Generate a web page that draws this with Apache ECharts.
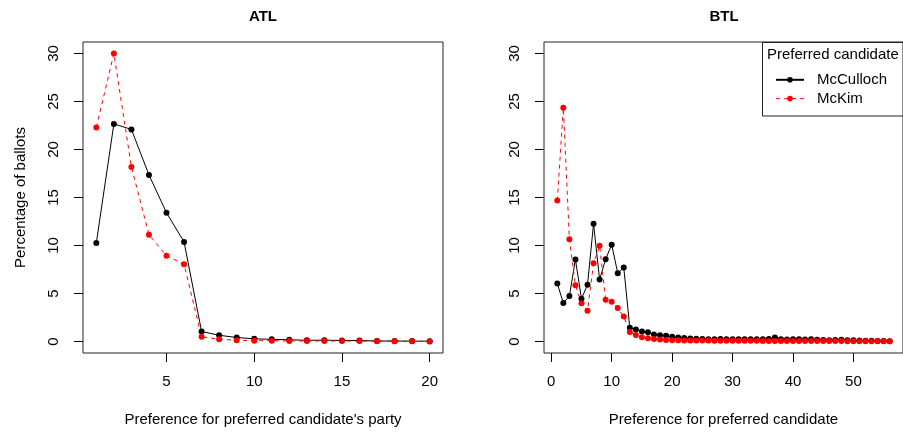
<!DOCTYPE html>
<html>
<head>
<meta charset="utf-8">
<script src="https://cdn.jsdelivr.net/npm/echarts@6/dist/echarts.min.js"></script>
<style>
html,body{margin:0;padding:0;background:#fff;}
#chart{width:903px;height:432px;}
</style>
</head>
<body>
<div id="chart"></div>
<script>
// ---- data ----
const atlPref = [1,2,3,4,5,6,7,8,9,10,11,12,13,14,15,16,17,18,19,20];
const atlMcCulloch = [10.27,22.67,22.09,17.35,13.41,10.37,1.04,0.65,0.41,0.28,0.22,0.18,0.12,0.14,0.10,0.10,0.05,0.05,0.04,0.03];
const atlMcKim = [22.3,30.0,18.18,11.13,8.92,8.05,0.48,0.24,0.13,0.08,0.08,0.06,0.05,0.05,0.05,0.04,0.03,0.02,0.02,0.01];

const btlPref = [1,2,3,4,5,6,7,8,9,10,11,12,13,14,15,16,17,18,19,20,21,22,23,24,25,26,27,28,29,30,31,32,33,34,35,36,37,38,39,40,41,42,43,44,45,46,47,48,49,50,51,52,53,54,55,56];
const btlMcCulloch = [6.04,4.01,4.73,8.53,4.46,5.91,12.26,6.46,8.57,10.09,7.12,7.70,1.42,1.24,1.05,0.96,0.72,0.66,0.60,0.48,0.42,0.36,0.32,0.28,0.26,0.24,0.24,0.26,0.22,0.22,0.24,0.22,0.22,0.24,0.22,0.26,0.42,0.22,0.20,0.22,0.24,0.20,0.24,0.18,0.16,0.14,0.16,0.18,0.12,0.12,0.10,0.08,0.08,0.06,0.04,0.03];
const btlMcKim = [14.68,24.35,10.64,5.87,3.97,3.21,8.15,9.98,4.35,4.15,3.49,2.59,0.98,0.68,0.44,0.34,0.27,0.20,0.16,0.14,0.12,0.11,0.10,0.10,0.09,0.09,0.08,0.08,0.08,0.08,0.07,0.07,0.07,0.07,0.06,0.06,0.06,0.06,0.05,0.05,0.05,0.05,0.05,0.04,0.04,0.04,0.04,0.04,0.03,0.03,0.03,0.03,0.02,0.02,0.02,0.02];

const atlTicks = [5,10,15,20];
const btlTicks = [0,10,20,30,40,50];
const yTicks = [0,5,10,15,20,25,30];

// ---- chart ----
const FONT = 'Liberation Sans, Arial, sans-serif';
const chart = echarts.init(document.getElementById('chart'), null, {renderer:'canvas'});

function xAxisCfg(idx, min, max, ticks, name){
  return {
    gridIndex: idx, type:'value', min:min, max:max,
    axisLine:{show:false, onZero:false},
    axisTick:{show:true, inside:false, length:9, customValues:ticks, lineStyle:{color:'#000', width:1}},
    axisLabel:{show:true, customValues:ticks, margin:21, fontSize:15, color:'#000', fontFamily:FONT},
    splitLine:{show:false},
    name:name, nameLocation:'middle', nameGap:59,
    nameTextStyle:{fontSize:15, color:'#000', fontFamily:FONT}
  };
}
function yAxisCfg(idx, name){
  return {
    gridIndex: idx, type:'value', min:-1.2, max:31.2,
    axisLine:{show:false, onZero:false},
    axisTick:{show:true, inside:false, length:9, customValues:yTicks, lineStyle:{color:'#000', width:1}},
    axisLabel:{show:true, customValues:yTicks, rotate:90, margin:22, fontSize:15, color:'#000', fontFamily:FONT},
    splitLine:{show:false},
    name:name, nameLocation:'middle', nameGap:55,
    nameTextStyle:{fontSize:15, color:'#000', fontFamily:FONT}
  };
}
function lineSeries(name, xi, xs, ys, color, dashed){
  return {
    type:'line', name:name, xAxisIndex:xi, yAxisIndex:xi,
    data: xs.map((x,i)=>[x, ys[i]]),
    symbol:'circle', symbolSize:6, showSymbol:true, showAllSymbol:true,
    lineStyle:{color:color, width:1, type: dashed ? [4,4] : 'solid'},
    itemStyle:{color:color},
    emphasis:{disabled:true},
    animation:false
  };
}

chart.setOption({
  animation:false,
  textStyle:{fontFamily:FONT},
  grid:[
    {left:83, top:42, width:360, height:313, show:true, borderColor:'#222', borderWidth:1, backgroundColor:'transparent', containLabel:false},
    {left:544, top:42, width:360, height:313, show:true, borderColor:'#222', borderWidth:1, backgroundColor:'transparent', containLabel:false}
  ],
  xAxis:[
    xAxisCfg(0, 0.24, 20.76, atlTicks, "Preference for preferred candidate's party"),
    xAxisCfg(1, -1.2, 58.2, btlTicks, 'Preference for preferred candidate')
  ],
  yAxis:[
    yAxisCfg(0, 'Percentage of ballots'),
    yAxisCfg(1, '')
  ],
  legend:{
    orient:'vertical', left:775, top:72.3, padding:0,
    itemWidth:28, itemHeight:7, itemGap:3.8,
    textStyle:{fontSize:15, color:'#000', fontFamily:FONT, padding:[0,0,0,8]},
    data:[
      {name:'McCulloch'},
      {name:'McKim', lineStyle:{type:[4,4], color:'#ff0000', width:1}}
    ],
    selectedMode:false
  },
  graphic:[
    {type:'text', x:263, y:17, style:{text:'ATL', font:'bold 15px Liberation Sans, Arial, sans-serif', fill:'#000', align:'center', verticalAlign:'middle', textAlign:'center', textVerticalAlign:'middle'}},
    {type:'text', x:724, y:17, style:{text:'BTL', font:'bold 15px Liberation Sans, Arial, sans-serif', fill:'#000', align:'center', verticalAlign:'middle', textAlign:'center', textVerticalAlign:'middle'}},
    {type:'rect', shape:{x:762.5, y:42.5, width:150, height:73.5}, style:{fill:'#fff', stroke:'#222', lineWidth:1}, z:-1},
    {type:'text', x:767, y:55, style:{text:'Preferred candidate', font:'15px Liberation Sans, Arial, sans-serif', fill:'#000', align:'left', verticalAlign:'middle', textAlign:'left', textVerticalAlign:'middle'}}
  ],
  series:[
    lineSeries('McCulloch', 0, atlPref, atlMcCulloch, '#000000', false),
    lineSeries('McKim', 0, atlPref, atlMcKim, '#ff0000', true),
    lineSeries('McCulloch', 1, btlPref, btlMcCulloch, '#000000', false),
    lineSeries('McKim', 1, btlPref, btlMcKim, '#ff0000', true)
  ]
});
</script>
</body>
</html>
